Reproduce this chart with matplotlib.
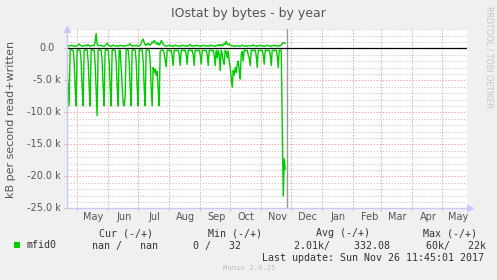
import numpy as np
import matplotlib
matplotlib.use("Agg")
import matplotlib.pyplot as plt
import matplotlib.dates as mdates
import matplotlib.transforms as mtransforms
from matplotlib.ticker import MultipleLocator, NullFormatter
from matplotlib.patches import Rectangle

plt.rcParams['font.family'] = ['DejaVu Sans']

# ---------------- data ----------------
title = "IOstat by bytes - by year"
y_label = "kB per second read+written"
series_name = "mfid0"
first_day = "2017-04-21"
now_stamp = "2017-11-26T11:45:01"
x_start = "2017-04-20T14:00"
x_end = "2018-05-25T16:00"
y_min, y_max = -25, 3
y_major = [0, -5, -10, -15, -20, -25]

# daily read rate (kB/s, drawn below zero)
read_k = [3.0, 6.0, 9.0, 0.3, 0.2, 0.3, 0.3, 2.0, 6.0, 9.0,
          0.3, 0.2, 0.3, 0.3, 2.0, 6.0, 9.0, 0.3, 0.3, 0.2,
          0.3, 2.0, 6.0, 9.0, 0.3, 0.2, 0.3, 0.3, 2.5, 6.5,
          10.5, 0.3, 0.2, 0.3, 0.3, 2.0, 6.0, 9.0, 0.3, 0.2,
          0.3, 0.3, 2.0, 6.0, 9.0, 0.3, 0.2, 0.3, 0.3, 2.0,
          6.0, 9.0, 0.3, 0.3, 3.0, 6.0, 8.5, 9.0, 7.6, 0.3,
          0.2, 0.3, 2.0, 6.0, 9.0, 0.3, 0.2, 0.3, 0.3, 2.0,
          6.0, 9.0, 0.3, 0.2, 0.3, 0.3, 2.0, 6.0, 9.0, 0.3,
          0.2, 0.3, 0.3, 2.0, 6.0, 9.0, 3.0, 3.8, 3.2, 4.2,
          3.6, 6.5, 9.0, 0.5, 0.3, 0.3, 0.3, 0.8, 1.8, 2.9,
          0.3, 0.3, 0.3, 0.4, 0.3, 1.2, 2.7, 0.3, 0.3, 0.4,
          0.3, 0.3, 1.0, 2.7, 0.3, 0.3, 0.3, 0.4, 0.3, 1.0,
          2.5, 0.3, 0.3, 0.3, 0.4, 0.3, 1.0, 2.7, 0.3, 0.3,
          0.4, 0.3, 0.3, 1.0, 2.5, 0.3, 0.3, 0.3, 0.4, 0.3,
          1.0, 2.7, 0.3, 0.3, 0.3, 0.4, 0.3, 1.0, 2.7, 0.3,
          1.5, 0.3, 1.0, 3.5, 0.3, 0.8, 2.0, 2.5, 0.3, 0.5,
          1.5, 0.4, 2.0, 3.0, 4.5, 6.1, 3.5, 4.2, 3.0, 3.8,
          2.5, 2.0, 3.5, 4.8, 1.0, 0.5, 2.0, 0.3, 0.3, 0.4,
          0.3, 1.0, 1.5, 2.7, 0.3, 0.3, 0.4, 0.3, 0.3, 1.2,
          3.0, 0.3, 0.3, 0.4, 0.3, 0.3, 1.0, 2.5, 0.3, 0.3,
          0.4, 0.3, 0.3, 1.0, 2.7, 0.3, 0.3, 0.4, 0.3, 0.3,
          1.2, 3.0, 0.3, 0.3, 0.3, 12.0, 23.1, 17.3, 18.9]

# daily write rate (kB/s, drawn above zero)
written_k = [0.4, 0.4, 0.3, 0.4, 0.5, 0.4, 0.35, 0.4, 0.3, 0.3,
             0.4, 0.5, 0.7, 0.5, 0.4, 0.35, 0.3, 0.4, 0.5, 0.4,
             0.4, 0.6, 0.4, 0.3, 0.4, 0.4, 0.5, 0.4, 1.0, 2.3,
             0.6, 0.4, 0.4, 0.5, 0.4, 0.4, 0.35, 0.3, 0.4, 0.6,
             0.8, 0.5, 0.4, 0.4, 0.3, 0.4, 0.5, 0.4, 0.4, 0.35,
             0.4, 0.3, 0.4, 0.5, 0.4, 0.35, 0.4, 0.3, 0.4, 0.4,
             0.5, 0.4, 0.6, 0.7, 0.4, 0.4, 0.35, 0.4, 0.4, 0.5,
             0.4, 0.3, 0.4, 0.5, 0.8, 1.2, 1.45, 0.9, 0.5, 0.6,
             0.5, 0.8, 0.6, 0.5, 0.7, 1.0, 0.8, 1.2, 1.1, 0.7,
             0.6, 0.9, 0.5, 0.7, 1.2, 1.0, 0.6, 0.5, 0.4, 0.3,
             0.4, 0.4, 0.5, 0.4, 0.35, 0.4, 0.3, 0.4, 0.5, 0.4,
             0.4, 0.35, 0.4, 0.3, 0.4, 0.5, 0.4, 0.4, 0.35, 0.4,
             0.3, 0.4, 0.5, 0.6, 0.4, 0.35, 0.4, 0.3, 0.4, 0.5,
             0.4, 0.4, 0.35, 0.4, 0.3, 0.4, 0.5, 0.4, 0.4, 0.35,
             0.4, 0.3, 0.4, 0.5, 0.4, 0.4, 0.35, 0.4, 0.3, 0.4,
             0.5, 0.4, 0.6, 0.4, 0.6, 0.4, 0.5, 0.8, 0.6, 1.1,
             0.7, 0.5, 0.7, 0.5, 0.4, 0.4, 0.35, 0.4, 0.3, 0.4,
             0.4, 0.35, 0.4, 0.3, 0.4, 0.5, 0.4, 0.4, 0.35, 0.4,
             0.3, 0.4, 0.4, 0.35, 0.4, 0.4, 0.55, 0.4, 0.35, 0.4,
             0.3, 0.4, 0.5, 0.4, 0.4, 0.35, 0.4, 0.3, 0.4, 0.4,
             0.5, 0.4, 0.35, 0.4, 0.3, 0.4, 0.4, 0.5, 0.4, 0.35,
             0.4, 0.3, 0.4, 0.4, 0.5, 0.7, 0.9, 0.8, 0.8]

cur_vals = ("nan", "nan")
min_vals = ("0", "32")
avg_vals = ("2.01k", "332.08")
max_vals = ("60k", "22k")
last_update = "Sun Nov 26 11:45:01 2017"
footer = "Munin 2.0.25"
watermark = "RRDTOOL / TOBI OETIKER"

# ---------------- style ----------------
W, H, DPI = 497, 280, 100
BG = "#F0F0F0"
GREEN = "#00CC00"
RED = "#F2A8A8"
GRAY = "#D2D2D2"
AXC = "#C8C8F8"
TXT = "#555555"
LEG = "#333333"

fig = plt.figure(figsize=(W / DPI, H / DPI), dpi=DPI, facecolor=BG)
L, R, T, B = 66.7, 467.0, 29.1, 208.3
ax = fig.add_axes([L / W, 1 - B / H, (R - L) / W, (B - T) / H])
ax.set_facecolor("white")

days = np.datetime64(first_day) + np.arange(len(read_k)).astype("timedelta64[D]")
ax.plot(days, [-v for v in read_k], color=GREEN, lw=1.0, zorder=3)
ax.plot(days, written_k, color=GREEN, lw=1.0, zorder=3)
ax.axhline(0, color="black", lw=0.9, zorder=4)
ax.axvline(np.datetime64(now_stamp), color="#999999", lw=1.0, zorder=2)

ax.set_xlim(np.datetime64(x_start), np.datetime64(x_end))
ax.set_ylim(y_min, y_max)

# x axis: gridlines at month starts, labels mid-month
ax.xaxis.set_major_locator(mdates.MonthLocator(bymonthday=1))
ax.xaxis.set_major_formatter(NullFormatter())
ax.xaxis.set_minor_locator(mdates.MonthLocator(bymonthday=17))
ax.xaxis.set_minor_formatter(mdates.DateFormatter("%b"))
ax.tick_params(axis="x", which="major", length=2, color=RED, width=0.7)
ax.tick_params(axis="x", which="minor", length=0, labelsize=7, labelcolor=TXT, pad=2.5)

# y axis
ax.set_yticks(y_major)
ax.yaxis.set_minor_locator(MultipleLocator(1))
ax.tick_params(axis="y", which="major", length=2, color=RED, width=0.7, labelleft=False)
ax.tick_params(axis="y", which="minor", length=0, labelleft=False)

dash = (0, (1.5, 1.5))
ax.xaxis.grid(True, which="major", color=RED, lw=0.72, linestyle=dash)
ax.yaxis.grid(True, which="major", color=RED, lw=0.72, linestyle=dash)
ax.yaxis.grid(True, which="minor", color=GRAY, lw=0.72, linestyle=dash)
ax.set_axisbelow(True)

for v in y_major:
    lab = "0.0" if v == 0 else f"{v:.1f} k"
    off = -12.4 if v == 0 else -6.0
    tr = mtransforms.blended_transform_factory(ax.transAxes, ax.transData) + \
        mtransforms.ScaledTranslation(off / DPI, 0, fig.dpi_scale_trans)
    ax.text(0, v, lab, transform=tr, ha="right", va="center", fontsize=7, color=TXT)

for s in ("top", "right"):
    ax.spines[s].set_visible(False)
for s in ("left", "bottom"):
    ax.spines[s].set_color(AXC)
    ax.spines[s].set_linewidth(1.0)
    ax.spines[s].set_zorder(5)
ax.plot([0], [1.0], marker="^", ms=4, color=AXC, transform=ax.transAxes, clip_on=False, zorder=6)
ax.plot([1.008], [0], marker=">", ms=4, color=AXC, transform=ax.transAxes, clip_on=False, zorder=6)

fig.text(11 / W, 1 - 119 / H, y_label, rotation=90, ha="center", va="center", fontsize=8, color=TXT)
fig.text(248 / W, 1 - 14 / H, title, ha="center", va="center", fontsize=9, color=TXT)
fig.text(488.5 / W, 1 - 56.7 / H, watermark, rotation=270, ha="center", va="center",
         fontsize=5.8, color="#C4C4C4")

# legend
mono = dict(family="DejaVu Sans Mono", fontsize=7.2, color=LEG, va="center", ha="left")
def ftext(x, y, s, **kw):
    d = dict(mono)
    d.update(kw)
    fig.text(x / W, 1 - y / H, s, **d)

fig.add_artist(Rectangle((14 / W, 1 - 248 / H), 6 / W, 6 / H, transform=fig.transFigure,
                         facecolor=GREEN, edgecolor="none"))
ftext(99, 233, "Cur (-/+)")
ftext(207.5, 233, "Min (-/+)")
ftext(316, 233, "Avg (-/+)")
ftext(423.3, 233, "Max (-/+)")
ftext(26.7, 245.5, series_name)
ftext(92.3, 245.5, f"{cur_vals[0]} /{cur_vals[1]:>6}")
ftext(193.3, 245.5, f"{min_vals[0]} /{min_vals[1]:>5}")
ftext(294.3, 245.5, f"{avg_vals[0]}/{avg_vals[1]:>10}")
ftext(425.7, 245.5, f"{max_vals[0]}/{max_vals[1]:>6}")
ftext(261.7, 257.7, f"Last update: {last_update}")
ftext(222.7, 268.3, footer, fontsize=5.2, color="#BBBBBB")

fig.savefig("out.png", dpi=DPI, facecolor=BG)
